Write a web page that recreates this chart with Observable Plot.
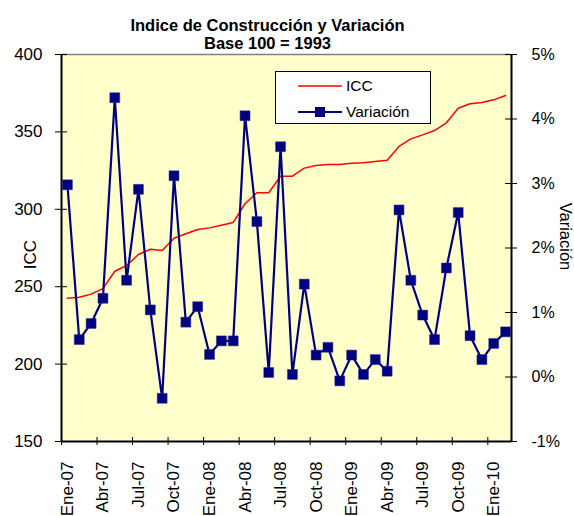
<!DOCTYPE html>
<html>
<head>
<meta charset="utf-8">
<script src="https://cdn.jsdelivr.net/npm/d3@7"></script>
<script src="https://cdn.jsdelivr.net/npm/@observablehq/plot@0.6"></script>
<style>
  html, body { margin: 0; padding: 0; background: #fff; }
  #wrap { position: relative; width: 574px; height: 516px; font-family: "Liberation Sans", Arial, sans-serif; }
  #legend { position: absolute; left: 275px; top: 71px; width: 156px; height: 53px; border: 1px solid #000; background: #fff; box-sizing: border-box; }
  .li { position: absolute; left: 0; height: 20px; display: flex; align-items: center; font-size: 15.5px; color: #000; }
  .li svg { margin-left: 22px; margin-right: 4px; }
</style>
</head>
<body>
<div id="wrap">
  <div id="chart"></div>
  <div id="legend">
    <div class="li" style="top:4px"><svg width="44" height="10"><line x1="0" y1="5" x2="44" y2="5" stroke="#ff0000" stroke-width="1.5"/></svg>ICC</div>
    <div class="li" style="top:30px"><svg width="44" height="12"><line x1="0" y1="6" x2="44" y2="6" stroke="#000080" stroke-width="2"/><rect x="17" y="1" width="10" height="10" fill="#000080"/></svg>Variación</div>
  </div>
</div>
<script>
const categorias = ["Ene-07","Feb-07","Mar-07","Abr-07","May-07","Jun-07","Jul-07","Ago-07","Sep-07","Oct-07","Nov-07","Dic-07",
  "Ene-08","Feb-08","Mar-08","Abr-08","May-08","Jun-08","Jul-08","Ago-08","Sep-08","Oct-08","Nov-08","Dic-08",
  "Ene-09","Feb-09","Mar-09","Abr-09","May-09","Jun-09","Jul-09","Ago-09","Sep-09","Oct-09","Nov-09","Dic-09",
  "Ene-10","Feb-10"];
const icc = [242.6,243.2,245.2,248.8,260.0,263.7,270.8,274.2,273.4,281.3,284.2,287.0,
  288.0,289.7,291.5,303.6,310.7,310.7,321.4,321.4,326.6,328.3,329.0,329.0,
  329.8,330.0,330.9,331.7,340.6,345.5,348.1,350.9,355.9,365.3,368.2,369.0,
  370.7,373.5];
const variacion = [2.98,0.58,0.83,1.22,4.33,1.50,2.91,1.04,-0.33,3.12,0.85,1.09,
  0.35,0.56,0.56,4.05,2.41,0.07,3.57,0.04,1.44,0.34,0.46,-0.06,
  0.34,0.04,0.27,0.09,2.59,1.50,0.96,0.58,1.69,2.55,0.64,0.27,
  0.52,0.70];
const xTickLabels = ["Ene-07","Abr-07","Jul-07","Oct-07","Ene-08","Abr-08","Jul-08","Oct-08","Ene-09","Abr-09","Jul-09","Oct-09","Ene-10"];
const iccTicks = [150,200,250,300,350,400];
const varTicks = [-1,0,1,2,3,4,5];
const titulo = ["Indice de Construcción y Variación","Base 100 = 1993"];

const vToY = v => 150 + (v + 1) * 250 / 6;
const yToV = y => Math.round((y - 150) * 6 / 250 - 1);

const iccData = icc.map((v, i) => ({i, v}));
const varData = variacion.map((v, i) => ({i, v: vToY(v)}));
const labelIdx = xTickLabels.map(l => categorias.indexOf(l));
const boundaries = labelIdx.map(i => i - 0.5);

const font = "Liberation Sans, Arial, sans-serif";

const chart = Plot.plot({
  width: 574,
  height: 516,
  marginLeft: 61,
  marginRight: 63,
  marginTop: 54,
  marginBottom: 75,
  style: {fontFamily: font, background: "transparent", overflow: "visible"},
  x: {type: "linear", domain: [-0.5, categorias.length - 0.5], axis: null},
  y: {domain: [150, 400], axis: null},
  marks: [
    Plot.frame({fill: "#FFFFCC", stroke: "none"}),
    Plot.ruleY([400], {stroke: "#808080", strokeWidth: 1.5}),
    Plot.ruleX([-0.5, categorias.length - 0.5], {stroke: "#000", strokeWidth: 2}),
    Plot.ruleY([150], {stroke: "#000", strokeWidth: 2}),
    Plot.ruleY(iccTicks, {x1: -0.5, x2: -0.5, y: d => d, stroke: "#000", insetLeft: -6, insetRight: -6}),
    Plot.ruleY(varTicks.map(vToY), {x1: categorias.length - 0.5, x2: categorias.length - 0.5, y: d => d, stroke: "#000", insetLeft: -6, insetRight: -6}),
    Plot.ruleX(boundaries, {x: d => d, y1: 150, y2: 150, stroke: "#000", insetTop: -4, insetBottom: -4}),
    Plot.axisY({ticks: iccTicks, tickSize: 0, tickPadding: 19, fontSize: 17, tickFormat: d => String(d), fill: "#000", label: null}),
    Plot.axisY({anchor: "right", ticks: varTicks.map(vToY), tickSize: 0, tickPadding: 20, fontSize: 16, tickFormat: d => yToV(d) + "%", fill: "#000", label: null}),
    Plot.text(labelIdx, {x: d => d, y: 150, text: d => categorias[d], rotate: -90, textAnchor: "end", lineAnchor: "middle", dy: 20, fontSize: 17, fill: "#000"}),
    Plot.line(iccData, {x: "i", y: "v", stroke: "#FF0000", strokeWidth: 1.5}),
    Plot.line(varData, {x: "i", y: "v", stroke: "#000080", strokeWidth: 2.2}),
    Plot.dot(varData, {x: "i", y: "v", symbol: "square", r: 5.6, fill: "#000080", stroke: "#2a2a90", strokeWidth: 0.5}),
    Plot.text(["ICC"], {frameAnchor: "left", textAnchor: "middle", dx: -31, dy: 6.5, rotate: -90, fontSize: 17, fill: "#000"}),
    Plot.text(["Variación"], {frameAnchor: "right", textAnchor: "middle", dx: 54, dy: -11.5, rotate: 90, fontSize: 16.5, fill: "#000"}),
    Plot.text([titulo[0]], {frameAnchor: "top", dx: -19, dy: -35, fontSize: 16.5, fontWeight: "bold", fill: "#000"}),
    Plot.text([titulo[1]], {frameAnchor: "top", dx: -19, dy: -17, fontSize: 16.5, fontWeight: "bold", fill: "#000"})
  ]
});
document.getElementById("chart").appendChild(chart);
</script>
</body>
</html>
